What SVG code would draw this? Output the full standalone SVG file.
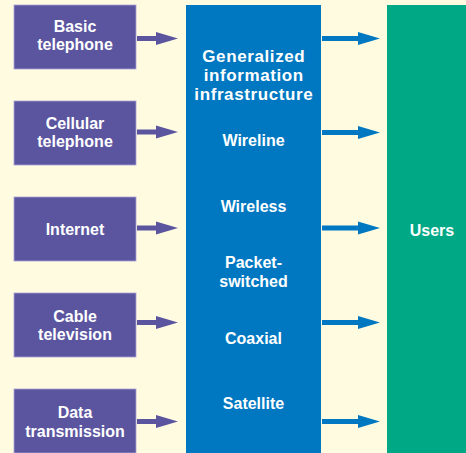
<svg xmlns="http://www.w3.org/2000/svg" width="466" height="453" viewBox="0 0 466 453">
  <defs>
    <style>
      .src rect { fill: #5B559F; stroke: #A9A4D6; stroke-width: 0.8; }
      .lbl { font-family: "Liberation Sans", Arial, Helvetica, sans-serif; font-weight: bold; fill: #FFFFFF; text-anchor: middle; }
      .s15 { font-size: 16px; }
      .s17 { font-size: 17px; letter-spacing: 0.6px; }
      .arrow-in { fill: #5B559F; }
      .arrow-out { fill: #0078C1; }
    </style>
    <!-- block arrow: shaft then triangular head, origin at shaft start / centre line -->
    <path id="arr" d="M0,-2.6 H19 V-6.5 L41,0 L19,6.5 V2.6 H0 Z" />
    <path id="arrB" d="M0,-2.6 H36 V-6.5 L58,0 L36,6.5 V2.6 H0 Z" />
  </defs>

  <rect x="0" y="0" width="466" height="453" fill="#FFFBE1" />

  <!-- source services -->
  <g id="basic-telephone" class="src">
    <rect x="14" y="5" width="122" height="64" />
    <text class="lbl s15" x="75" y="32">Basic</text>
    <text class="lbl s15" x="75" y="50">telephone</text>
  </g>
  <g id="cellular-telephone" class="src">
    <rect x="14" y="101" width="122" height="64" />
    <text class="lbl s15" x="75" y="129">Cellular</text>
    <text class="lbl s15" x="75" y="147">telephone</text>
  </g>
  <g id="internet" class="src">
    <rect x="14" y="197" width="122" height="64" />
    <text class="lbl s15" x="75" y="235">Internet</text>
  </g>
  <g id="cable-television" class="src">
    <rect x="14" y="293" width="122" height="64" />
    <text class="lbl s15" x="75" y="322">Cable</text>
    <text class="lbl s15" x="75" y="340">television</text>
  </g>
  <g id="data-transmission" class="src">
    <rect x="14" y="389" width="122" height="64" />
    <text class="lbl s15" x="75" y="418">Data</text>
    <text class="lbl s15" x="75" y="437">transmission</text>
  </g>

  <!-- generalized information infrastructure -->
  <g id="gii">
    <rect x="186" y="5" width="135" height="448" fill="#0078C1" />
    <text class="lbl s17" x="253.8" y="62">Generalized</text>
    <text class="lbl s17" x="253.8" y="81">information</text>
    <text class="lbl s17" x="253.8" y="100">infrastructure</text>
    <text class="lbl s15" x="253.5" y="146">Wireline</text>
    <text class="lbl s15" x="253.5" y="211.5">Wireless</text>
    <text class="lbl s15" x="253.5" y="268">Packet-</text>
    <text class="lbl s15" x="253.5" y="287">switched</text>
    <text class="lbl s15" x="253.5" y="343.5">Coaxial</text>
    <text class="lbl s15" x="253.5" y="409">Satellite</text>
  </g>

  <!-- users -->
  <g id="users">
    <rect x="387" y="5" width="79" height="448" fill="#00A886" />
    <text class="lbl s15" x="432" y="236">Users</text>
  </g>

  <!-- connectors -->
  <g id="connectors">
    <g class="arrow-in">
      <use href="#arr" x="137" y="38.5" />
      <use href="#arr" x="137" y="132" />
      <use href="#arr" x="137" y="228" />
      <use href="#arr" x="137" y="322.5" />
      <use href="#arr" x="137" y="421.5" />
    </g>
    <g class="arrow-out">
      <use href="#arrB" x="322" y="38.5" />
      <use href="#arrB" x="322" y="132.5" />
      <use href="#arrB" x="322" y="228" />
      <use href="#arrB" x="322" y="322.5" />
      <use href="#arrB" x="322" y="421.5" />
    </g>
  </g>
</svg>
